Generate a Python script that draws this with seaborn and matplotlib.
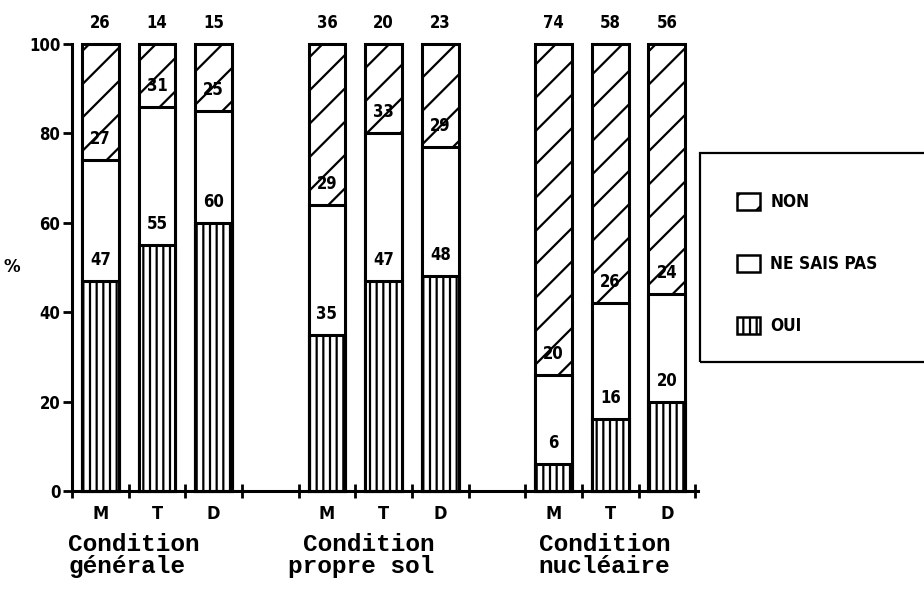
import numpy as np
import pandas as pd
import matplotlib
matplotlib.use("Agg")
import matplotlib.pyplot as plt
import seaborn as sns
from matplotlib.patches import Patch, Rectangle

# ---- data ----
conditions = ["Condition\ngénérale", "Condition\npropre sol", "Condition\nnucléaire"]
groups = ["M", "T", "D"]
oui = [47, 55, 60, 35, 47, 48, 6, 16, 20]
nsp = [27, 31, 25, 29, 33, 29, 20, 26, 24]
non = [26, 14, 15, 36, 20, 23, 74, 58, 56]
yticks = [0, 20, 40, 60, 80, 100]
legend_labels = ["NON", "NE SAIS PAS", "OUI"]

# ---- style ----
sns.set_style("white")
plt.rcParams["font.family"] = ["DejaVu Sans"]
plt.rcParams["hatch.linewidth"] = 0.8
for k in ("text.color", "axes.labelcolor", "xtick.color", "ytick.color"):
    plt.rcParams[k] = "black"

DPI = 200
W_PX, H_PX = 924, 590
fig = plt.figure(figsize=(W_PX / DPI, H_PX / DPI), dpi=DPI)
fig.patch.set_facecolor("white")
ax = fig.add_axes([72 / W_PX, 1 - 491 / H_PX, (698 - 72) / W_PX, (491 - 44) / H_PX])

n_cond, n_grp = len(conditions), len(groups)
stride = n_grp + 1
pos = [c * stride + g for c in range(n_cond) for g in range(n_grp)]
df = pd.DataFrame({
    "pos": pos,
    "cond": np.repeat(conditions, n_grp),
    "grp": groups * n_cond,
    "oui": oui, "nsp": nsp, "non": non,
})
df["top_oui"] = df["oui"]
df["top_nsp"] = df["oui"] + df["nsp"]
df["top_non"] = df["top_nsp"] + df["non"]

bar_w = 0.65
edge_lw = 1.1
common = dict(x="pos", native_scale=True, width=bar_w, errorbar=None,
              color="white", saturation=1, edgecolor="black",
              linewidth=edge_lw, ax=ax, clip_on=False)
sns.barplot(data=df, y="top_non", hatch="//", **common)
sns.barplot(data=df, y="top_nsp", **common)
sns.barplot(data=df, y="top_oui", hatch="|||||", **common)

# value labels just above each segment's top
lab_off = 4.7
num_font = dict(fontsize=6, fontweight="bold", fontstretch="condensed", color="black")
for _, r in df.iterrows():
    for val, top in ((r["oui"], r["top_oui"]), (r["nsp"], r["top_nsp"]), (r["non"], r["top_non"])):
        ax.text(r["pos"], top + lab_off, f"{val}", ha="center", va="center",
                clip_on=False, **num_font)

# ---- axes ----
ax.set_xlim(-0.5, 10.55)
ax.set_ylim(0, 100)
bounds = np.arange(-0.5, max(pos) + 1, 1.0)
ax.set_xticks(bounds)
ax.set_xticklabels([])
ax.set_xticks(pos, minor=True)
ax.set_xticklabels(groups * n_cond, minor=True)
ax.tick_params(axis="x", which="major", direction="inout", length=5, width=1.0, bottom=True, color="black")
ax.tick_params(axis="x", which="minor", length=0, pad=5, labelsize=6.5, bottom=True, labelcolor="black")
for t in ax.get_xticklabels(minor=True):
    t.set_fontweight("bold")
    t.set_fontstretch("condensed")
ax.set_yticks(yticks)
ax.set_yticklabels([str(v) for v in yticks])
ax.tick_params(axis="y", direction="out", length=3.2, width=1.0, pad=1, labelsize=6, left=True,
               color="black", labelcolor="black")
for t in ax.get_yticklabels():
    t.set_fontweight("bold")
    t.set_fontstretch("condensed")
ax.set_xlabel("")
ax.set_ylabel("%", rotation=0, fontsize=6, fontweight="bold", va="center", ha="center", color="black")
ax.yaxis.set_label_coords(-0.096, 0.5)
for s in ("top", "right"):
    ax.spines[s].set_visible(False)
for s in ("left", "bottom"):
    ax.spines[s].set_linewidth(edge_lw)
    ax.spines[s].set_color("black")

# condition labels under each group
cond_shift = [-0.57, -0.68, -0.26]
cond_align = ["left", "right", "left"]
for c, (txt, sh, al) in enumerate(zip(conditions, cond_shift, cond_align)):
    ax.annotate(txt, xy=(c * stride + sh, 0), xycoords=("data", "axes fraction"),
                xytext=(0, -15), textcoords="offset points", ha="left", va="top",
                multialignment=al, fontsize=8.8, family="Liberation Mono",
                fontweight="bold", linespacing=0.95, annotation_clip=False, color="black")

# ---- legend ----
handles = [
    Patch(facecolor="white", edgecolor="black", hatch="//", linewidth=0.9),
    Patch(facecolor="white", edgecolor="black", linewidth=0.9),
    Patch(facecolor="white", edgecolor="black", hatch="|||||", linewidth=0.9),
]
fig.legend(handles, legend_labels, loc="upper left",
           bbox_to_anchor=(737 / W_PX, 1 - 193 / H_PX), frameon=False,
           borderpad=0, borderaxespad=0, handlelength=1.34, handleheight=1.1,
           handletextpad=0.6, labelspacing=2.55, labelcolor="black",
           prop=dict(size=6.2, weight="bold", stretch="condensed"))
fig.add_artist(Rectangle((700 / W_PX, 1 - 362 / H_PX), 0.3, (362 - 153) / H_PX,
                         transform=fig.transFigure, fill=False, edgecolor="black",
                         linewidth=0.8, clip_on=False))

fig.savefig("out.png", dpi=DPI, facecolor="white")
